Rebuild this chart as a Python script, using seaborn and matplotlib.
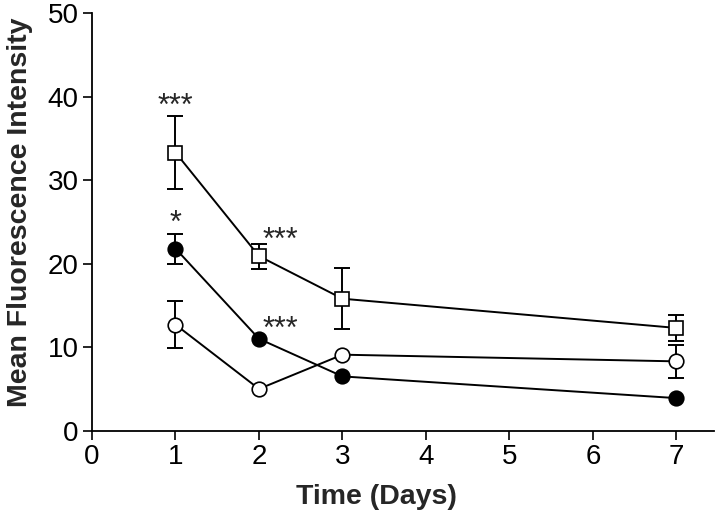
import matplotlib
matplotlib.use("Agg")
import matplotlib.pyplot as plt
import seaborn as sns
import numpy as np
import pandas as pd

# ---- data ----
days = [1, 2, 3, 7]
square_mean = [33.3, 20.9, 15.8, 12.3]
square_err = [4.35, 1.5, 3.65, 1.6]
filled_mean = [21.8, 11.0, 6.5, 3.9]
filled_err = [1.8, 0.0, 0.0, 0.0]
open_mean = [12.7, 5.0, 9.1, 8.3]
open_err = [2.8, 0.0, 0.0, 2.0]

x_ticks = [0, 1, 2, 3, 4, 5, 6, 7]
y_ticks = [0, 10, 20, 30, 40, 50]

# significance marks: (x, y-baseline, text)
sig_x = [1.0, 1.0, 2.26, 2.26]
sig_y = [37.8, 23.8, 21.75, 11.05]
sig_text = ["***", "*", "***", "***"]

sns.set_style("ticks")
plt.rcParams["font.family"] = ["Liberation Sans", "DejaVu Sans"]

fig = plt.figure(figsize=(7.2, 5.22), dpi=100)
ax = fig.add_axes([92 / 720, (522 - 430.7) / 522, (714 - 92) / 720, (430.7 - 13) / 522])

series = [
    ("square", square_mean, square_err, "s", "white"),
    ("filled", filled_mean, filled_err, "o", "black"),
    ("open", open_mean, open_err, "o", "white"),
]

for name, mean, err, marker, fc in series:
    df = pd.DataFrame({"day": days, "value": mean})
    sns.lineplot(data=df, x="day", y="value", ax=ax, color="black", linewidth=1.4,
                 marker=marker, markersize=10.5, markerfacecolor=fc,
                 markeredgecolor="black", markeredgewidth=1.2, zorder=3)
    xs = [d for d, e in zip(days, err) if e > 0]
    ys = [m for m, e in zip(mean, err) if e > 0]
    es = [e for e in err if e > 0]
    if xs:
        ax.errorbar(xs, ys, yerr=es, fmt="none", ecolor="black", elinewidth=1.4,
                    capsize=6, capthick=1.4, zorder=2)

for x, y, t in zip(sig_x, sig_y, sig_text):
    ax.text(x, y, t, ha="center", va="baseline", fontsize=22)

ax.set_xlim(0, 7.45)
ax.set_ylim(0, 50)
ax.set_xticks(x_ticks)
ax.set_xticklabels([str(v) for v in x_ticks])
ax.set_yticks(y_ticks)
ax.set_yticklabels([str(v) for v in y_ticks])
ax.tick_params(axis="both", which="major", labelsize=20, length=6.5, width=1.2,
               direction="out", color="black", labelcolor="black", pad=3)
for s in ["left", "bottom"]:
    ax.spines[s].set_linewidth(1.3)
    ax.spines[s].set_color("black")
sns.despine(ax=ax)

ax.set_xlabel("Time (Days)", fontsize=20.5, fontweight="bold", labelpad=10, x=0.458)
ax.set_ylabel("Mean Fluorescence Intensity", fontsize=20.5, fontweight="bold",
              labelpad=11, y=0.522)

fig.savefig("out.png", dpi=100)
